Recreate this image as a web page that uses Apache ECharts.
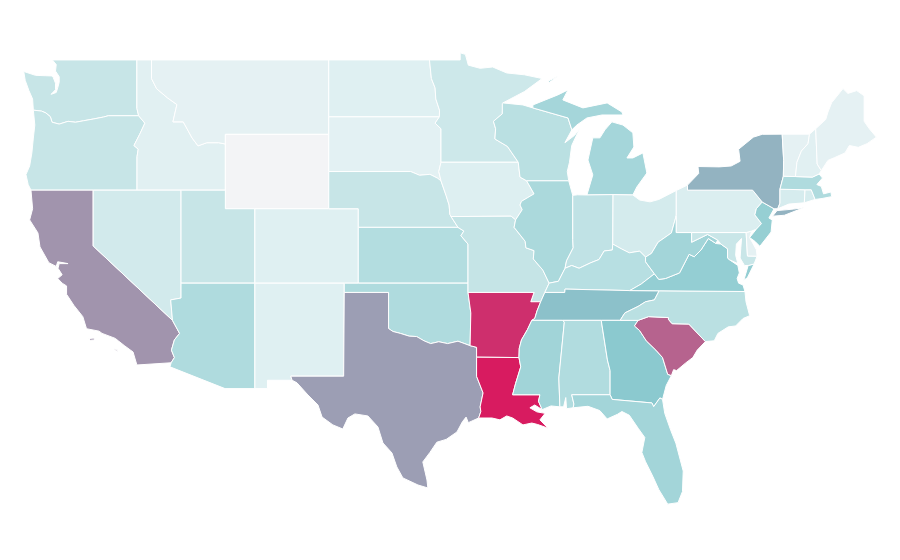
<!DOCTYPE html>
<html>
<head>
<meta charset="utf-8">
<title>USA map</title>
<script src="https://cdn.jsdelivr.net/npm/echarts@6/dist/echarts.min.js"></script>
<style>
html,body{margin:0;padding:0;background:#fff}
#main{width:900px;height:560px}
</style>
</head>
<body>
<div id="main"></div>
<script>
// values per state
var stateNames = ['Washington','Oregon','California','Idaho','Nevada','Montana','Wyoming','Utah','Arizona','Colorado','New Mexico',
  'North Dakota','South Dakota','Nebraska','Kansas','Oklahoma','Texas','Minnesota','Iowa','Missouri','Arkansas','Louisiana',
  'Wisconsin','Illinois','Michigan','Indiana','Ohio','Kentucky','Tennessee','Mississippi','Alabama','Georgia','Florida',
  'South Carolina','North Carolina','Virginia','West Virginia','Maryland','Delaware','Pennsylvania','New Jersey','New York',
  'Connecticut','Rhode Island','Massachusetts','Vermont','New Hampshire','Maine'];
var stateValues = [21,21,65,9,16,7,0,21,32,10,10,
  10,8,21,30,32,62,18,11,22,94,100,
  27,34,37,24,15,28,52,39,31,49,38,
  79,27,45,38,20,7,12,44,56,
  14,14,32,7,9,7];
var rampColors = ['#f3f4f6','#dff0f2','#c9e6e8','#b3dde0','#9fd3d7','#89c8ce','#99a5b8','#a882a2','#b8608c','#c83d76','#d81b60'];

// state outlines, lon/lat
var stateShapes = {
  'Washington':[[[-117.04,49],[-122.76,49],[-122.5,48.75],[-122.55,48.4],[-122.3,48.1],[-122.3,47.8],[-122.4,47.5],[-122.5,47.25],[-122.85,47.15],[-122.55,47.4],[-122.55,47.75],[-122.7,48.05],[-122.8,48.14],[-123.2,48.15],[-123.9,48.17],[-124.7,48.38],[-124.6,47.9],[-124.35,47.35],[-124.1,46.9],[-124.05,46.3],[-123.5,46.25],[-123.2,46.15],[-122.9,45.95],[-122.78,45.65],[-122.3,45.55],[-121.7,45.7],[-121.2,45.65],[-120.65,45.73],[-119.95,45.83],[-119.3,45.93],[-118.98,46],[-116.92,46],[-117.04,46.4]]],
  'Oregon':[[[-124.05,46.3],[-123.95,45.5],[-124.05,44.8],[-124.15,44],[-124.3,43.3],[-124.55,42.84],[-124.4,42.3],[-124.21,42],[-120,42],[-117.03,42],[-117.03,43.8],[-116.95,44.2],[-117.24,44.4],[-116.85,45],[-116.5,45.6],[-116.92,46],[-118.98,46],[-119.3,45.93],[-119.95,45.83],[-120.65,45.73],[-121.2,45.65],[-121.7,45.7],[-122.3,45.55],[-122.78,45.65],[-122.9,45.95],[-123.2,46.15],[-123.5,46.25]]],
  'California':[[[-124.21,42],[-120,42],[-120,39],[-114.63,35],[-114.15,34.3],[-114.5,33.95],[-114.7,33.4],[-114.5,33],[-114.72,32.72],[-117.04,32.6],[-117.3,33.3],[-117.9,33.65],[-118.3,33.9],[-118.5,34.03],[-119.4,34.3],[-119.6,34.42],[-120.45,34.55],[-120.7,35.2],[-121.3,35.8],[-121.8,36.4],[-121.8,36.85],[-122.1,37],[-122.4,37.25],[-122.1,37.45],[-122.38,37.8],[-122.3,38.05],[-121.7,38.05],[-122.4,38.15],[-122.5,37.9],[-123,38.1],[-123.6,38.95],[-123.74,39.7],[-124.3,40.4],[-124.1,41]],
    [[-120.3,34.02],[-119.95,34.05],[-119.9,33.95],[-120.2,33.93]],[[-118.6,33.48],[-118.35,33.4],[-118.35,33.33],[-118.55,33.42]]],
  'Idaho':[[[-117.04,49],[-116.05,49],[-116.05,48],[-115.7,47.45],[-114.95,46.95],[-114.33,46.6],[-114.6,45.67],[-113.9,45.67],[-113.3,44.8],[-112.9,44.38],[-112.3,44.55],[-111.5,44.55],[-111.05,44.48],[-111.05,42],[-114.05,42],[-117.03,42],[-117.03,43.8],[-116.95,44.2],[-117.24,44.4],[-116.85,45],[-116.5,45.6],[-116.92,46],[-117.04,46.4]]],
  'Nevada':[[[-120,42],[-114.05,42],[-114.05,36.2],[-114.75,36.1],[-114.63,35],[-120,39]]],
  'Montana':[[[-116.05,49],[-104.05,49],[-104.05,45.94],[-104.05,45],[-111.05,45],[-111.05,44.48],[-111.5,44.55],[-112.3,44.55],[-112.9,44.38],[-113.3,44.8],[-113.9,45.67],[-114.6,45.67],[-114.33,46.6],[-114.95,46.95],[-115.7,47.45],[-116.05,48]]],
  'Wyoming':[[[-111.05,45],[-104.05,45],[-104.05,43],[-104.05,41],[-109.05,41],[-111.05,41],[-111.05,42],[-111.05,44.48]]],
  'Utah':[[[-114.05,42],[-111.05,42],[-111.05,41],[-109.05,41],[-109.05,37],[-114.05,37]]],
  'Arizona':[[[-114.05,37],[-109.05,37],[-109.05,31.33],[-111.07,31.33],[-114.8,32.5],[-114.72,32.72],[-114.5,33],[-114.7,33.4],[-114.5,33.95],[-114.15,34.3],[-114.63,35],[-114.75,36.1],[-114.05,36.2]]],
  'Colorado':[[[-109.05,41],[-104.05,41],[-102.05,41],[-102.05,40],[-102.05,37],[-103,37],[-109.05,37]]],
  'New Mexico':[[[-109.05,37],[-103,37],[-103,36.5],[-103.04,32],[-106.62,32],[-106.53,31.78],[-108.2,31.78],[-108.2,31.33],[-109.05,31.33]]],
  'North Dakota':[[[-104.05,49],[-97.23,49],[-97.1,48],[-96.85,47.5],[-96.8,46.9],[-96.55,46.3],[-96.56,45.94],[-104.05,45.94]]],
  'South Dakota':[[[-104.05,45.94],[-96.56,45.94],[-96.85,45.6],[-96.45,45.3],[-96.45,43.5],[-96.6,43],[-96.45,42.5],[-96.7,42.65],[-97.2,42.85],[-97.9,42.8],[-98.5,43],[-104.05,43]]],
  'Nebraska':[[[-104.05,43],[-98.5,43],[-97.9,42.8],[-97.2,42.85],[-96.7,42.65],[-96.45,42.5],[-96.1,41.7],[-95.9,41.2],[-95.85,40.7],[-95.77,40.58],[-95.3,40],[-102.05,40],[-102.05,41],[-104.05,41]]],
  'Kansas':[[[-102.05,40],[-95.3,40],[-94.9,39.8],[-95.1,39.55],[-94.62,39.1],[-94.62,37],[-102.05,37]]],
  'Oklahoma':[[[-103,37],[-102.05,37],[-94.62,37],[-94.62,36.5],[-94.43,35.4],[-94.48,33.64],[-95.3,33.88],[-96,33.75],[-96.6,33.85],[-97.15,33.75],[-97.6,33.9],[-98.1,34.13],[-98.6,34.15],[-99.2,34.3],[-99.7,34.4],[-100,34.56],[-100,36.5],[-103,36.5]]],
  'Texas':[[[-103,36.5],[-100,36.5],[-100,34.56],[-99.7,34.4],[-99.2,34.3],[-98.6,34.15],[-98.1,34.13],[-97.6,33.9],[-97.15,33.75],[-96.6,33.85],[-96,33.75],[-95.3,33.88],[-94.48,33.64],[-94.04,33.55],[-94.04,33.02],[-94.04,31.99],[-93.6,31.1],[-93.8,30.35],[-93.75,30.1],[-93.9,29.75],[-94.6,29.5],[-94.75,29.8],[-95,29.55],[-95.37,29],[-96.1,28.6],[-96.73,28.45],[-97.2,27.9],[-97.68,27.39],[-97.4,26.42],[-97.34,25.99],[-98.01,26.15],[-99.03,26.53],[-99.44,27.12],[-99.77,27.87],[-100.38,28.41],[-100.72,29.27],[-101.4,29.86],[-102.28,29.97],[-102.75,29.75],[-103.1,29.16],[-103.77,29.38],[-104.5,29.8],[-104.78,30.45],[-105.46,30.99],[-106.2,31.64],[-106.53,31.78],[-106.62,32],[-103.04,32]]],
  'Minnesota':[[[-97.23,49],[-95.15,49],[-95.15,49.38],[-94.8,49.3],[-94.6,48.72],[-93.8,48.55],[-92.95,48.62],[-92,48.3],[-90.8,48.2],[-89.6,48],[-90.8,47.3],[-92.26,46.69],[-92.3,46.66],[-92.3,46.1],[-92.9,45.7],[-92.75,45.3],[-92.8,44.75],[-91.95,44.35],[-91.22,43.5],[-96.45,43.5],[-96.45,45.3],[-96.85,45.6],[-96.56,45.94],[-96.55,46.3],[-96.8,46.9],[-96.85,47.5],[-97.1,48]]],
  'Iowa':[[[-96.45,43.5],[-91.22,43.5],[-91.1,42.7],[-90.65,42.5],[-90.15,41.8],[-91,41.4],[-91.1,41.2],[-90.95,40.95],[-91.4,40.4],[-91.7,40.6],[-95.77,40.58],[-95.85,40.7],[-95.9,41.2],[-96.1,41.7],[-96.45,42.5],[-96.6,43]]],
  'Missouri':[[[-95.77,40.58],[-91.7,40.6],[-91.4,40.4],[-91.5,40],[-90.75,39.25],[-90.7,38.9],[-90.15,38.75],[-90.2,38.3],[-89.55,37.7],[-89.13,37],[-89.42,36.5],[-89.7,36],[-90.37,36],[-90.15,36.5],[-94.62,36.5],[-94.62,37],[-94.62,39.1],[-95.1,39.55],[-94.9,39.8],[-95.3,40]]],
  'Arkansas':[[[-94.62,36.5],[-90.15,36.5],[-90.37,36],[-89.7,36],[-89.95,35.5],[-90.1,35.1],[-90.3,35],[-90.6,34.5],[-91,33.95],[-91.15,33.5],[-91.17,33],[-94.04,33.02],[-94.04,33.55],[-94.48,33.64],[-94.43,35.4]]],
  'Louisiana':[[[-94.04,33.02],[-91.17,33],[-91.05,32.5],[-91.4,31.6],[-91.6,31],[-89.75,31],[-89.85,30.65],[-89.6,30.2],[-90.1,30.45],[-90.43,30.3],[-89.96,30.08],[-89.4,30],[-89.75,29.65],[-89.2,29.2],[-89.9,29.4],[-90.3,29.48],[-90.9,29.38],[-91.6,29.75],[-92,29.86],[-92.46,29.65],[-93,29.75],[-93.9,29.75],[-93.75,30.1],[-93.8,30.35],[-93.6,31.1],[-94.04,31.99]]],
  'Wisconsin':[[[-92.26,46.69],[-90.9,46.58],[-90.23,46.42],[-87.85,45.88],[-87.59,45.24],[-88.06,44.55],[-87.4,44.95],[-87.05,45.32],[-87.6,44.4],[-87.75,43.5],[-87.9,43],[-87.8,42.5],[-90.65,42.5],[-91.1,42.7],[-91.22,43.5],[-91.95,44.35],[-92.8,44.75],[-92.75,45.3],[-92.9,45.7],[-92.3,46.1],[-92.3,46.66]]],
  'Illinois':[[[-90.65,42.5],[-87.8,42.5],[-87.53,41.72],[-87.53,39.35],[-87.5,38.9],[-87.95,38.2],[-88.05,37.8],[-88.5,37.1],[-89.13,37],[-89.55,37.7],[-90.2,38.3],[-90.15,38.75],[-90.7,38.9],[-90.75,39.25],[-91.5,40],[-91.4,40.4],[-90.95,40.95],[-91.1,41.2],[-91,41.4],[-90.15,41.8]]],
  'Michigan':[[[-90.23,46.58],[-88.54,47.12],[-87.85,47.39],[-88.2,46.85],[-86.84,46.42],[-85.2,46.69],[-84.2,46.2],[-84.13,46.04],[-85.55,46.04],[-86.57,45.88],[-87.25,45.5],[-87.59,45.24],[-87.85,45.88],[-90.23,46.42]],
    [[-86.57,41.74],[-84.8,41.76],[-83.46,41.74],[-83.19,42.17],[-82.51,42.92],[-82.78,44],[-83.46,43.73],[-83.86,43.73],[-83.39,44.32],[-83.46,45.08],[-84.13,45.5],[-84.88,45.67],[-85.35,45.24],[-85.69,44.81],[-86.17,44.81],[-86.5,43.62],[-86.17,42.82]],
    [[-89.2,47.85],[-88.5,48.15],[-88.45,48.1],[-89.1,47.8]]],
  'Indiana':[[[-87.53,41.72],[-87.2,41.75],[-86.57,41.74],[-84.8,41.76],[-84.82,39.1],[-84.85,38.78],[-85.4,38.73],[-85.75,38.27],[-86.3,38.1],[-87.1,37.8],[-87.6,37.95],[-88.05,37.8],[-87.95,38.2],[-87.5,38.9],[-87.53,39.35]]],
  'Ohio':[[[-84.8,41.76],[-83.46,41.74],[-83,41.47],[-82.3,41.37],[-81.7,41.5],[-80.52,41.98],[-80.52,40.64],[-80.85,39.7],[-81.75,39.2],[-82.2,38.6],[-82.6,38.4],[-83,38.72],[-83.7,38.63],[-84.25,38.85],[-84.82,39.1]]],
  'Kentucky':[[[-89.42,36.5],[-88.07,36.5],[-88.05,36.68],[-83.67,36.6],[-82.9,36.95],[-82,37.5],[-82.6,38.15],[-82.6,38.4],[-83,38.72],[-83.7,38.63],[-84.25,38.85],[-84.82,39.1],[-84.85,38.78],[-85.4,38.73],[-85.75,38.27],[-86.3,38.1],[-87.1,37.8],[-87.6,37.95],[-88.05,37.8],[-88.5,37.1],[-89.13,37]]],
  'Tennessee':[[[-90.3,35],[-88.2,35],[-85.6,35],[-84.32,35],[-84,35.4],[-83.1,35.75],[-82.6,36],[-82,36.1],[-81.68,36.59],[-83.67,36.6],[-88.05,36.68],[-88.07,36.5],[-89.42,36.5],[-89.7,36],[-89.95,35.5],[-90.1,35.1]]],
  'Mississippi':[[[-90.3,35],[-88.2,35],[-88.1,34.9],[-88.47,31.9],[-88.4,30.35],[-89,30.4],[-89.6,30.2],[-89.85,30.65],[-89.75,31],[-91.6,31],[-91.4,31.6],[-91.05,32.5],[-91.17,33],[-91.15,33.5],[-91,33.95],[-90.6,34.5]]],
  'Alabama':[[[-88.2,35],[-85.6,35],[-85.18,32.87],[-85,32.3],[-85,31],[-87.6,31],[-87.45,30.5],[-87.5,30.3],[-87.95,30.25],[-88,30.85],[-88.15,30.35],[-88.4,30.35],[-88.47,31.9],[-88.1,34.9]]],
  'Georgia':[[[-85.6,35],[-84.32,35],[-83.1,35],[-83.35,34.7],[-83,34.45],[-82.55,33.9],[-81.9,33.4],[-81.45,33],[-81.1,32.1],[-80.85,32.03],[-81.2,31.5],[-81.45,30.75],[-81.63,30.83],[-82.05,30.36],[-82.17,30.56],[-84.86,30.75],[-85,31],[-85,32.3],[-85.18,32.87]]],
  'Florida':[[[-87.6,31],[-85,31],[-84.86,30.75],[-82.17,30.56],[-82.05,30.36],[-81.63,30.83],[-81.45,30.75],[-81.3,30],[-80.9,29.1],[-80.55,28.4],[-80.05,26.9],[-80.1,25.8],[-80.4,25.2],[-81.1,25.12],[-81.7,25.9],[-82.1,26.6],[-82.6,27.4],[-82.85,27.9],[-82.65,28.7],[-83.1,29.2],[-83.7,29.9],[-84.2,30.1],[-84.5,29.95],[-85.2,29.7],[-85.7,30.15],[-86.5,30.38],[-87.5,30.3],[-87.45,30.5]]],
  'South Carolina':[[[-83.1,35],[-82.4,35.2],[-81.05,35.15],[-81.05,35.05],[-80.8,34.82],[-79.67,34.8],[-78.55,33.86],[-79.1,33.4],[-79.4,33],[-79.9,32.7],[-80.5,32.3],[-80.7,32.35],[-80.85,32.03],[-81.1,32.1],[-81.45,33],[-81.9,33.4],[-82.55,33.9],[-83,34.45],[-83.35,34.7]]],
  'North Carolina':[[[-84.32,35],[-83.1,35],[-82.4,35.2],[-81.05,35.15],[-81.05,35.05],[-80.8,34.82],[-79.67,34.8],[-78.55,33.86],[-77.95,33.9],[-77.7,34.3],[-77,34.65],[-76.5,34.7],[-76,35.1],[-75.55,35.25],[-75.8,36],[-75.87,36.55],[-81.68,36.59],[-82,36.1],[-82.6,36],[-83.1,35.75],[-84,35.4]]],
  'Virginia':[[[-83.67,36.6],[-81.68,36.59],[-75.87,36.55],[-76,36.9],[-76.3,37],[-76.4,37.25],[-76.25,37.55],[-76.35,37.95],[-76.9,38.25],[-77.05,38.35],[-77.05,38.85],[-77.5,39.1],[-77.83,39.13],[-78.35,39.4],[-78.85,38.78],[-79.3,38.42],[-79.65,38.55],[-80.3,37.55],[-81.25,37.25],[-81.7,37.2],[-82,37.5],[-82.9,36.95]],
    [[-75.95,37.15],[-75.65,37.95],[-75.25,38.03],[-75.7,37.3]]],
  'West Virginia':[[[-82.6,38.4],[-82.6,38.15],[-82,37.5],[-81.7,37.2],[-81.25,37.25],[-80.3,37.55],[-79.65,38.55],[-79.3,38.42],[-78.85,38.78],[-78.35,39.4],[-77.83,39.13],[-77.72,39.32],[-78.4,39.62],[-79.48,39.2],[-79.48,39.72],[-80.52,39.72],[-80.52,40.64],[-80.85,39.7],[-81.75,39.2],[-82.2,38.6]]],
  'Maryland':[[[-79.48,39.72],[-75.79,39.72],[-75.7,38.46],[-75.05,38.45],[-75.25,38.03],[-75.65,37.95],[-75.9,37.95],[-76.2,38.35],[-76.15,38.9],[-76.1,39.4],[-76.45,39.1],[-76.5,38.5],[-76.35,38.05],[-76.9,38.25],[-77.05,38.35],[-77.05,38.85],[-77.5,39.1],[-77.72,39.32],[-78.4,39.62],[-79.48,39.2]]],
  'Delaware':[[[-75.79,39.72],[-75.42,39.8],[-75.55,39.45],[-75.1,38.8],[-75.05,38.45],[-75.7,38.46]]],
  'Pennsylvania':[[[-80.52,41.98],[-80.52,40.64],[-80.52,39.72],[-79.48,39.72],[-75.79,39.72],[-75.42,39.8],[-75.1,39.9],[-74.75,40.2],[-75.2,40.67],[-75.1,41],[-74.7,41.36],[-75.35,42],[-79.76,42],[-79.76,42.27]]],
  'New Jersey':[[[-74.7,41.36],[-73.9,41],[-74.25,40.5],[-74.02,40.4],[-74.1,39.75],[-74.86,38.98],[-75.2,39.25],[-75.55,39.45],[-75.1,39.9],[-74.75,40.2],[-75.2,40.67],[-75.1,41]]],
  'New York':[[[-79.76,42.27],[-79.76,42],[-75.35,42],[-74.7,41.36],[-73.9,41],[-73.65,41],[-73.5,41.3],[-73.5,42.05],[-73.27,42.75],[-73.25,43.6],[-73.35,45.01],[-74.7,45],[-75.3,44.85],[-76.3,44.2],[-76.2,43.55],[-76.8,43.3],[-77.6,43.25],[-79.05,43.27],[-79,42.9]],
    [[-74,40.6],[-73.2,40.65],[-71.9,41.05],[-72.6,40.98],[-73.7,40.9]]],
  'Connecticut':[[[-73.5,42.05],[-71.8,42.02],[-71.85,41.32],[-72.9,41.25],[-73.65,41],[-73.5,41.3]]],
  'Rhode Island':[[[-71.8,42.02],[-71.38,42.02],[-71.12,41.5],[-71.85,41.32]]],
  'Massachusetts':[[[-73.5,42.05],[-71.8,42.02],[-71.38,42.02],[-71.12,41.5],[-70.65,41.55],[-70,41.65],[-70.05,41.9],[-70.55,41.8],[-70.7,42.2],[-71,42.3],[-70.62,42.65],[-70.85,42.87],[-71.3,42.7],[-72.45,42.73],[-73.27,42.75]]],
  'Vermont':[[[-73.35,45.01],[-71.5,45.01],[-71.6,44.5],[-72.05,44.1],[-72.35,43.5],[-72.45,42.73],[-73.27,42.75],[-73.25,43.6]]],
  'New Hampshire':[[[-71.5,45.01],[-71.08,45.3],[-70.98,43.4],[-70.7,43.05],[-70.85,42.87],[-71.3,42.7],[-72.45,42.73],[-72.35,43.5],[-72.05,44.1],[-71.6,44.5]]],
  'Maine':[[[-71.08,45.3],[-70.4,45.8],[-70.25,46.2],[-70,46.7],[-69.23,47.46],[-68.9,47.2],[-68.3,47.35],[-67.8,47.07],[-67.8,45.7],[-67.45,45.3],[-66.97,44.85],[-67.6,44.5],[-68.2,44.3],[-68.8,44.4],[-69.1,44],[-69.8,43.75],[-70.25,43.6],[-70.7,43.05],[-70.98,43.4]]]
};

var features = stateNames.map(function (name) {
  return {
    type: 'Feature',
    properties: { name: name },
    geometry: { type: 'Polygon', coordinates: stateShapes[name] }
  };
});
echarts.registerMap('USA', { type: 'FeatureCollection', features: features });

var seriesData = stateNames.map(function (name, i) {
  return { name: name, value: stateValues[i] };
});

var chart = echarts.init(document.getElementById('main'));
chart.setOption({
  backgroundColor: '#fff',
  animation: false,
  visualMap: {
    show: false,
    min: 0,
    max: 100,
    inRange: { color: rampColors }
  },
  series: [{
    type: 'map',
    map: 'USA',
    roam: false,
    silent: true,
    aspectScale: 0.794,
    boundingCoords: [[-124.73, 49.38], [-66.95, 25.12]],
    layoutCenter: [450, 278.5],
    layoutSize: 853.4,
    label: { show: false },
    itemStyle: { borderColor: '#fff', borderWidth: 1 },
    data: seriesData
  }]
});
</script>
</body>
</html>
